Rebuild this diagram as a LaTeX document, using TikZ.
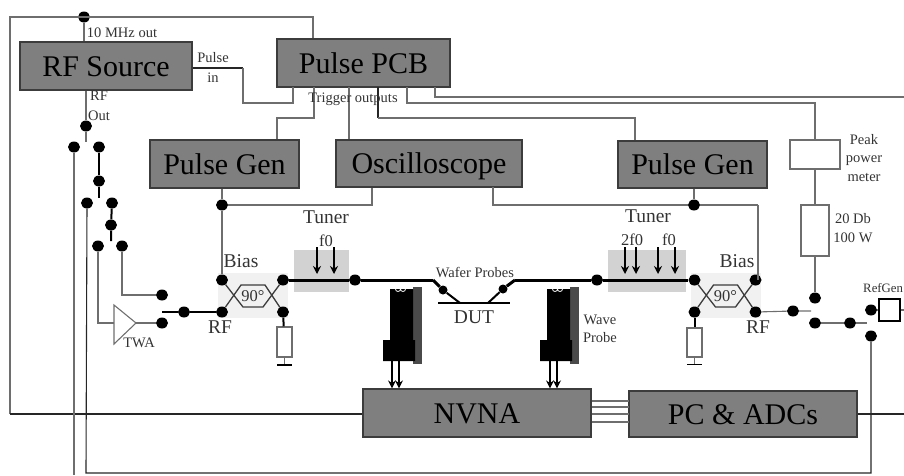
\documentclass[tikz,border=0pt]{standalone}
\usepackage{fontspec}
\setmainfont{Liberation Serif}
\usetikzlibrary{shapes.geometric, arrows.meta, calc}
\definecolor{blockgray}{HTML}{7F7F7F}
\definecolor{blockline}{HTML}{3C3C3C}
\definecolor{wiregray}{HTML}{6E6E6E}
\definecolor{tunergray}{HTML}{D2D2D2}
\definecolor{couplergray}{HTML}{F1F1F1}
\definecolor{textgray}{HTML}{333333}
\definecolor{shadegray}{HTML}{4A4A4A}

\begin{document}
\begin{tikzpicture}[
      x=1pt, y=-1pt,
      block/.style={rectangle, draw=blockline, fill=blockgray, line width=1.2pt, inner sep=0pt, text=black, text height=20pt, text depth=0pt, font=\fontsize{30}{30}\selectfont},
      plainbox/.style={rectangle, draw=wiregray, fill=white, line width=1.1pt, inner sep=0pt},
      dot/.style={ellipse, fill=black, inner sep=0pt, minimum width=12pt, minimum height=11pt},
      bar/.style={rectangle, fill=black, inner sep=0pt, minimum width=15pt, minimum height=1.4pt},
      tiny/.style={inner sep=0pt, text=textgray, align=center, font=\fontsize{14.5}{18}\selectfont},
      mid/.style={inner sep=0pt, text=textgray, font=\fontsize{19.5}{20}\selectfont},
      wire/.style={wiregray, line width=1.1pt},
      dark/.style={black!85, line width=1.1pt},
      switch/.style={black, line width=2pt},
      rfline/.style={black, line width=3pt},
      arr/.style={-{Stealth[length=8pt, width=8pt]}, black, line width=2.4pt},
      coupler/.pic={
        \fill[couplergray] (-35,-23) rectangle (35,22);
        \node[dot] (nw) at (-31,-16) {};
        \node[dot] (ne) at (30,-16) {};
        \node[dot] (sw) at (-31,16) {};
        \node[dot] (se) at (30,16) {};
        \coordinate (a) at (-12,-11);
        \coordinate (b) at (12,-11);
        \coordinate (c) at (10,11);
        \coordinate (d) at (-10,11);
        \draw[blockline, line width=1.3pt] (nw) -- (d) -- (c) -- (ne);
        \draw[blockline, line width=1.3pt] (sw) -- (a) -- (b) -- (se);
        \node[inner sep=0pt, text=textgray, font=\fontsize{16.5}{17}\selectfont] (deg) at (0,0) {90°};
      },
      waveprobe/.pic={
        \fill[shadegray] (13,-77) rectangle (22,0);
        \fill[black] (-10,-75) -- (13,-75) -- (13,-24) -- (15,-24) -- (15,-3) -- (-17,-3) -- (-17,-24) -- (-10,-24) -- cycle;
        \draw[white, line width=0.8pt] (-2,-75) circle (2.5) (3,-75) circle (2.5);
      }
    ]
      \useasboundingbox (0,0) rectangle (904,475);

      % main blocks
      \node[block, minimum width=172pt, minimum height=48pt] (rfsource) at (106,66) {RF Source};
      \node[block, minimum width=173pt, minimum height=48pt] (pcb) at (363.5,63) {Pulse PCB};
      \node[block, minimum width=149pt, minimum height=48pt] (gena) at (224.5,164) {Pulse Gen};
      \node[block, minimum width=186pt, minimum height=47pt] (scope) at (429,163.5) {Oscilloscope};
      \node[block, minimum width=149pt, minimum height=47pt] (genb) at (692.5,164.5) {Pulse Gen};
      \node[block, minimum width=228pt, minimum height=48pt] (nvna) at (477,413) {NVNA};
      \node[block, minimum width=228pt, minimum height=46pt] (pc) at (743,414) {PC \& ADCs};

      % tuners and couplers
      \fill[tunergray] (294,250) rectangle (349,292);
      \fill[tunergray] (608,250) rectangle (686,292);
      \pic (lc) at (253,296) {coupler};
      \pic (rc) at (725.5,296) {coupler};
      \pic at (400,364) {waveprobe};
      \pic at (557,364) {waveprobe};

      % dots
      \node[dot] (clk) at (84,17) {};
      \node[dot] (rfa) at (86,126) {};
      \node[dot] (rfb) at (74,147) {};
      \node[dot] (rfc) at (99,147) {};
      \node[dot] (rfd) at (99,181) {};
      \node[dot] (rfe) at (87,203) {};
      \node[dot] (rff) at (112,203) {};
      \node[dot] (rfg) at (111,225) {};
      \node[dot] (rfh) at (98,246) {};
      \node[dot] (rfi) at (122,246) {};
      \node[dot] (rfj) at (162,295) {};
      \node[dot] (rfk) at (162,323) {};
      \node[dot] (rfl) at (184,312) {};
      \node[dot] (biasa) at (222,205) {};
      \node[dot] (biasb) at (694,205) {};
      \node[dot] (tunea) at (355,280) {};
      \node[dot] (tuneb) at (597,280) {};
      \node[dot, minimum width=9pt, minimum height=9pt] (wafa) at (443,290) {};
      \node[dot, minimum width=9pt, minimum height=9pt] (wafb) at (503,289) {};
      \node[dot] (swa) at (793,311) {};
      \node[dot] (swb) at (815,298) {};
      \node[dot] (swc) at (815,323) {};
      \node[dot] (swd) at (850,323) {};
      \node[dot] (swe) at (871,310) {};
      \node[dot] (swf) at (871,336) {};

      % small boxes
      \node[plainbox, minimum width=50pt, minimum height=29pt] (meter) at (815,154.5) {};
      \node[plainbox, minimum width=28pt, minimum height=51pt] (atten) at (815,230.5) {};
      \node[plainbox, draw=black, line width=1.3pt, minimum width=21pt, minimum height=22pt] (refbox) at (889.5,310) {};
      \node[plainbox, minimum width=15pt, minimum height=30pt] (lres) at (284.5,342) {};
      \node[plainbox, minimum width=15pt, minimum height=29pt] (rres) at (694.5,342.5) {};
      \node[bar] (lgnd) at (284.5,365) {};
      \node[bar] (rgnd) at (694.5,364.5) {};
      \node[rectangle, fill=black, inner sep=0pt, minimum width=72pt, minimum height=2.6pt] (dutbar) at (474,303) {};

      % free ends and bends
      \coordinate (corner) at (10,17);
      \coordinate (leftend) at (10,414);
      \coordinate (topend) at (313,17);
      \coordinate (rightend) at (904,97);
      \coordinate (pcend) at (904,414);
      \coordinate (refend) at (904,310);
      \coordinate (grayend) at (74,475);
      \coordinate (busleft) at (86,473);
      \coordinate (busright) at (871,473);
      \coordinate (rfastub) at (86,142);
      \coordinate (rfcstub) at (99,198);
      \coordinate (rfgstub) at (111,241);
      \coordinate (twaa) at (114,305);
      \coordinate (twab) at (114,344);
      \coordinate (twac) at (136,323);
      \coordinate (rflstub) at (162,312);
      \coordinate (swaend) at (811,311);
      \coordinate (swdend) at (867,323);
      \coordinate (lprobe) at (433,280);
      \coordinate (rprobe) at (515,280);
      \coordinate (lfoot) at (460,303);
      \coordinate (rfoot) at (488,303);
      \coordinate (pulsea) at (243,68);
      \coordinate (pulseb) at (243,103);
      \coordinate (pulsec) at (293,103);
      \coordinate (pulsed) at (293,87);
      \coordinate (trga) at (314,87);
      \coordinate (trgb) at (314,118);
      \coordinate (trgc) at (277,118);
      \coordinate (trgd) at (349,87);
      \coordinate (trge) at (378,87);
      \coordinate (trgf) at (378,118);
      \coordinate (trgg) at (635,118);
      \coordinate (trgh) at (407,87);
      \coordinate (trgi) at (407,103);
      \coordinate (trgj) at (435,87);
      \coordinate (trgk) at (435,97);
      \coordinate (scopea) at (372,205);
      \coordinate (scopeb) at (493,187);
      \coordinate (scopec) at (493,205);
      \coordinate (scoped) at (758,205);

      % control wiring
      \draw[wire] (leftend) -- (corner) -- (topend) -- (topend |- pcb.north);
      \draw[dark] (leftend) -- (nvna.west |- leftend);
      \draw[wire] (clk) -- (clk |- rfsource.north);
      \draw[dark] (rfsource.east |- pulsea) -- (pulsea);
      \draw[wire] (pulsea) -- (pulseb) -- (pulsec) -- (pulsed);
      \draw[wire] (trga) -- (trgb) -- (trgc) -- (trgc |- gena.north);
      \draw[wire] (trgd) -- (trgd |- scope.north);
      \draw[dark] (trge) -- (trgf);
      \draw[wire] (trgf) -- (trgg) -- (trgg |- genb.north);
      \draw[wire] (trgh) -- (trgi) -- (trgi -| meter.north) -- (meter.north);
      \draw[wire] (trgj) -- (trgk) -- (rightend);
      \draw[wire] (biasa |- gena.south) -- (biasa) -- (lcnw);
      \draw[wire] (biasa) -- (scopea) -- (scopea |- scope.south);
      \draw[wire] (biasb |- genb.south) -- (biasb);
      \draw[wire] (scopeb) -- (scopec) -- (biasb) -- (scoped);
      \draw[wire] (scoped) -- (scoped |- rcne);
      \draw[wire] (meter) -- (atten);
      \draw[wire] (atten) -- (swb);

      % RF path
      \draw[wire] (rfa |- rfsource.south) -- (rfa) -- (rfastub);
      \draw[wire] (rfb) -- (grayend);
      \draw[switch] (rfc) -- (rfd) -- (rfcstub);
      \draw[dark] (rfe) -- (busleft) -- (busright) -- (swf);
      \draw[switch] (rff) -- (rfg) -- (rfgstub);
      \draw[wire] (rfh) |- (twaa |- twac);
      \draw[wire] (rfi) |- (rfj);
      \draw[wire] (twaa) -- (twab) -- (twac) -- cycle;
      \draw[wire] (twac) -- (rfk);
      \draw[switch] (rflstub) -- (rfl) -- (lcsw);
      \draw[rfline] (lcne) -- (tunea) -- (lprobe);
      \draw[rfline] (lprobe) -- (wafa);
      \draw[switch] (wafa) -- (lfoot);
      \draw[rfline] (rprobe) -- (wafb);
      \draw[switch] (wafb) -- (rfoot);
      \draw[rfline] (rprobe) -- (tuneb) -- (rcnw);
      \draw[switch] (lcse) -- (lres);
      \draw[switch] (rcsw) -- (rres);
      \draw[wire] (lres) -- (lgnd);
      \draw[wire] (rres) -- (rgnd);
      \draw[wire] (rcse) -- (swa) -- (swaend);
      \draw[wire] (swc) -- (swd) -- (swdend);
      \draw[wire] (swe) -- (refbox);
      \draw[wire] (refbox) -- (refend);
      \draw[dark] (pc.east) -- (pcend);

      % links between analyser and computer
      \foreach \y in {401,407,414,422} {
        \coordinate (lnk\y) at (629,\y);
        \draw[wire] (lnk\y -| nvna.east) -- (lnk\y);
      }

      % tuner slugs
      \foreach \x in {317,334,625,636,658,675} {
        \coordinate (slug\x) at (\x,247);
        \coordinate (foot\x) at (\x,274);
        \draw[arr] (slug\x) -- (foot\x);
      }
      % probe cables
      \foreach \x in {392,399,550,557} {
        \coordinate (cable\x) at (\x,361);
        \draw[arr] (cable\x) -- (cable\x |- nvna.north);
      }

      % labels
      \node[tiny] (lclk) at (122,33) {10 MHz out};
      \node[tiny] (lpulse) at (213,58) {Pulse};
      \node[tiny] (lin) at (213,78) {in};
      \node[tiny] (lrf) at (99,96) {RF};
      \node[tiny] (lout) at (99,116) {Out};
      \node[tiny] (ltrig) at (353,99) {Trigger outputs};
      \node[tiny] (ltwa) at (139,343) {TWA};
      \node[tiny] (lwafer) at (475,272) {Wafer Probes};
      \node[tiny, font=\fontsize{14.5}{18.5}\selectfont] (lwave) at (600,329) {Wave\\Probe};
      \node[tiny, font=\fontsize{14.5}{18.5}\selectfont] (lpeak) at (864,158) {Peak\\power\\meter};
      \node[tiny, font=\fontsize{14.5}{19}\selectfont] (ldb) at (853,228.5) {20 Db\\100 W};
      \node[tiny, anchor=west, font=\fontsize{12.8}{14}\selectfont] (lref) at (863,288) {RefGen};
      \node[mid] (ltuna) at (326,217) {Tuner};
      \node[mid] (ltunb) at (648,216) {Tuner};
      \node[tiny, font=\fontsize{16.5}{17}\selectfont] (lfa) at (326,241) {f0};
      \node[tiny, font=\fontsize{16.5}{17}\selectfont] (lfb) at (632,240) {2f0};
      \node[tiny, font=\fontsize{16.5}{17}\selectfont] (lfc) at (669,240) {f0};
      \node[mid] (lbiasa) at (241,261) {Bias};
      \node[mid] (lbiasb) at (737,261) {Bias};
      \node[mid] (lrfa) at (220,327) {RF};
      \node[mid] (lrfb) at (758,327) {RF};
      \node[mid] (ldut) at (474,317) {DUT};
    \end{tikzpicture}
\end{document}
